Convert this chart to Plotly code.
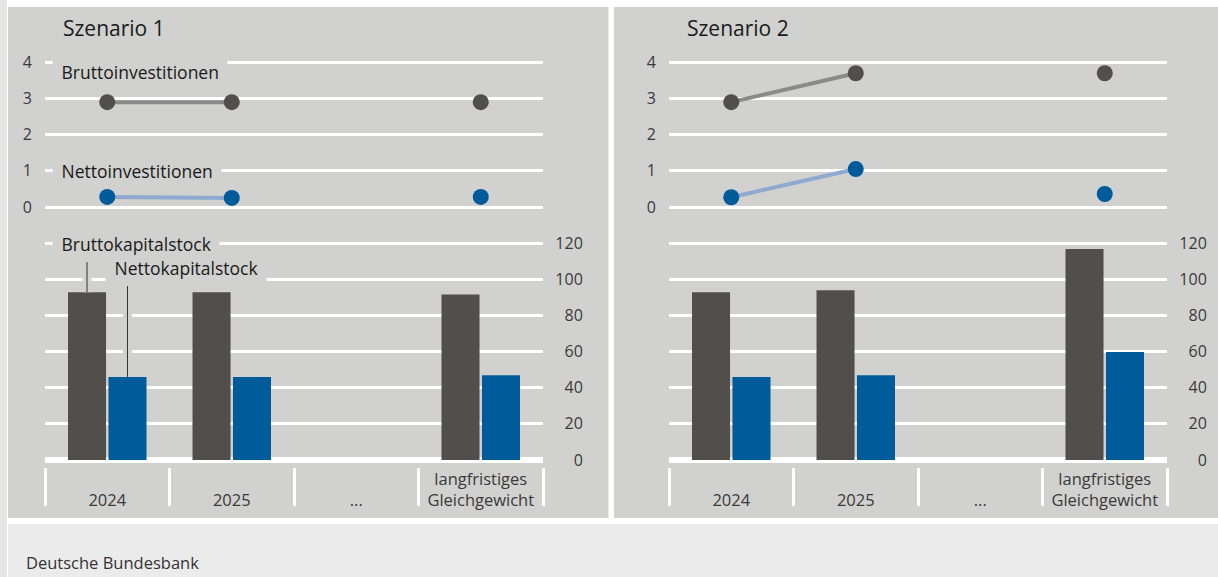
import plotly.graph_objects as go

# ---------------- data ----------------
categories = ["2024", "2025", "...", "langfristiges Gleichgewicht"]

gross_inv_s1 = [2.9, 2.9, None, 2.9]
net_inv_s1 = [0.28, 0.25, None, 0.28]
gross_stock_s1 = [92.9, 92.9, None, 91.7]
net_stock_s1 = [46.0, 46.0, None, 46.9]

gross_inv_s2 = [2.9, 3.7, None, 3.7]
net_inv_s2 = [0.27, 1.05, None, 0.36]
gross_stock_s2 = [92.9, 94.0, None, 116.8]
net_stock_s2 = [46.0, 46.9, None, 59.8]

top_ticks = [0, 1, 2, 3, 4]
bottom_ticks = [0, 20, 40, 60, 80, 100, 120]

# ---------------- style ----------------
W, H = 1218, 577
FONT = "Open Sans"
PANEL = "#d1d1cf"
DARK = "#524e4b"
BLUE = "#005b9a"
LINE_GRAY = "#8a8a8a"
LINE_BLUE = "#8fa9d1"
TXT = "#1a1a1a"
TICK = "#3a3a3a"
BARGAP = 0.35


def fx(p):
    return p / W


def fy(p):
    return 1 - p / H


idx = list(range(len(categories)))
ticktext = []
for c in categories:
    parts = c.split(" ")
    if len(parts) == 1:
        ticktext.append("<br>" + c)
    else:
        ticktext.append("<br>".join(parts))
bounds = [i - 0.5 for i in range(len(categories) + 1)]

scenarios = [
    dict(title="Szenario 1", gi=gross_inv_s1, ni=net_inv_s1, gs=gross_stock_s1, ns=net_stock_s1,
         dx=0, ax=("x", "y", "x3", "y3"), names=("xaxis", "yaxis", "xaxis3", "yaxis3")),
    dict(title="Szenario 2", gi=gross_inv_s2, ni=net_inv_s2, gs=gross_stock_s2, ns=net_stock_s2,
         dx=624, ax=("x2", "y2", "x4", "y4"), names=("xaxis2", "yaxis2", "xaxis4", "yaxis4")),
]

fig = go.Figure()
layout_axes = {}
annotations = []

TOP_UNIT = 36.15   # px per unit (top panel)
BOT_UNIT = 1.806   # px per unit (bottom panel)

for s in scenarios:
    xt, yt, xb, yb = s["ax"]
    nxt, nyt, nxb, nyb = s["names"]
    dx = s["dx"]

    fig.add_trace(go.Scatter(x=idx, y=s["gi"], mode="lines+markers", connectgaps=False,
                             line=dict(color=LINE_GRAY, width=4),
                             marker=dict(color=DARK, size=16),
                             xaxis=xt, yaxis=yt, showlegend=False, hoverinfo="skip"))
    fig.add_trace(go.Scatter(x=idx, y=s["ni"], mode="lines+markers", connectgaps=False,
                             line=dict(color=LINE_BLUE, width=4),
                             marker=dict(color=BLUE, size=16),
                             xaxis=xt, yaxis=yt, showlegend=False, hoverinfo="skip"))
    fig.add_trace(go.Bar(x=idx, y=s["gs"], marker=dict(color=DARK, line=dict(width=0)),
                         xaxis=xb, yaxis=yb, showlegend=False, hoverinfo="skip"))
    fig.add_trace(go.Bar(x=idx, y=s["ns"], marker=dict(color=BLUE, line=dict(width=0)),
                         xaxis=xb, yaxis=yb, showlegend=False, hoverinfo="skip"))

    xdom = [fx(45 + dx), fx(543 + dx)]
    layout_axes[nxt] = dict(domain=xdom, range=[-0.5, len(categories) - 0.5], anchor=yt,
                            showticklabels=False, showgrid=False, zeroline=False,
                            showline=False, ticks="", fixedrange=True)
    layout_axes[nyt] = dict(domain=[fy(215), fy(55)],
                            range=[-(215 - 207) / TOP_UNIT, (207 - 55) / TOP_UNIT],
                            anchor=xt, tickmode="array", tickvals=top_ticks,
                            showgrid=True, gridcolor="white", gridwidth=3, zeroline=False,
                            showline=False, ticks="outside", ticklen=9,
                            tickcolor="rgba(0,0,0,0)",
                            tickfont=dict(family=FONT, size=16, color=TICK), fixedrange=True)
    layout_axes[nxb] = dict(domain=xdom, range=[-0.5, len(categories) - 0.5],
                            anchor="free", position=fy(467),
                            tickmode="array", tickvals=idx, ticktext=ticktext, ticks="",
                            minor=dict(tickmode="array", tickvals=bounds, ticks="outside",
                                       ticklen=38, tickwidth=3, tickcolor="white", showgrid=False),
                            showgrid=False, zeroline=False, showline=False,
                            tickfont=dict(family=FONT, size=16.5, color=TICK), fixedrange=True)
    layout_axes[nyb] = dict(domain=[fy(467), fy(236)],
                            range=[-(467 - 460) / BOT_UNIT, (460 - 236) / BOT_UNIT],
                            anchor="free", position=fx(589 + dx), side="left",
                            tickmode="array", tickvals=bottom_ticks,
                            showgrid=True, gridcolor="white", gridwidth=3,
                            zeroline=True, zerolinecolor="white", zerolinewidth=6,
                            showline=False, ticks="outside", ticklen=3,
                            tickcolor="rgba(0,0,0,0)",
                            tickfont=dict(family=FONT, size=16, color=TICK), fixedrange=True)

    annotations.append(dict(text=s["title"], x=fx(61 + dx), y=fy(28), xref="paper", yref="paper",
                            xanchor="left", yanchor="middle", showarrow=False,
                            font=dict(family=FONT, size=21, color=TXT, weight=500)))

# series labels (scenario 1)
NB = "\u00a0"


def label(text, x, y):
    return dict(text=NB + text + NB, x=fx(x), y=fy(y), xref="paper", yref="paper",
                xanchor="left", yanchor="middle", showarrow=False, bgcolor=PANEL, borderpad=4,
                font=dict(family=FONT, size=17.5, color=TXT, weight=500))


annotations.append(label("Bruttoinvestitionen", 52, 72))
annotations.append(label("Nettoinvestitionen", 52, 171))
annotations.append(label("Nettokapitalstock", 105, 268))
annotations.append(label("Bruttokapitalstock", 52, 244))

annotations.append(dict(text="Deutsche Bundesbank", x=fx(24), y=fy(562), xref="paper", yref="paper",
                        xanchor="left", yanchor="middle", showarrow=False,
                        font=dict(family=FONT, size=16.5, color="#333333")))

# background shapes
shapes = [
    dict(type="rect", xref="paper", yref="paper", x0=0, x1=fx(7), y0=0, y1=1,
         fillcolor="#e4e4e4", line=dict(width=0), layer="below"),
    dict(type="rect", xref="paper", yref="paper", x0=fx(8), x1=1, y0=0, y1=fy(524),
         fillcolor="#ebebeb", line=dict(width=0), layer="below"),
    dict(type="rect", xref="paper", yref="paper", x0=fx(8), x1=fx(608.5), y0=fy(518), y1=fy(7),
         fillcolor=PANEL, line=dict(width=0), layer="below"),
    dict(type="rect", xref="paper", yref="paper", x0=fx(614), x1=1, y0=fy(518), y1=fy(7),
         fillcolor=PANEL, line=dict(width=0), layer="below"),
]

# leader lines from labels to the first bars of scenario 1
off = (1 - BARGAP) / 4
brutto_top = (460 - 262) / BOT_UNIT
netto_top = (460 - 286) / BOT_UNIT
for xc, y0, y1 in [(idx[0] - off, gross_stock_s1[0], brutto_top),
                   (idx[0] + off, net_stock_s1[0], netto_top)]:
    shapes.append(dict(type="line", xref="x3", yref="y3", x0=xc, x1=xc, y0=y0, y1=y1,
                       line=dict(color=PANEL, width=9), layer="above"))
    shapes.append(dict(type="line", xref="x3", yref="y3", x0=xc, x1=xc, y0=y0, y1=y1,
                       line=dict(color="#333333", width=1), layer="above"))

fig.update_layout(
    width=W, height=H, margin=dict(l=0, r=0, t=0, b=0, pad=0),
    template="none", paper_bgcolor="white", plot_bgcolor="rgba(0,0,0,0)",
    barmode="group", bargap=BARGAP, bargroupgap=0.06,
    showlegend=False, annotations=annotations, shapes=shapes,
    font=dict(family=FONT, color=TXT),
    **layout_axes,
)

fig.write_html("out.html", config={"displayModeBar": False},
               post_script="document.body.style.margin='0';document.body.style.overflow='hidden';")
